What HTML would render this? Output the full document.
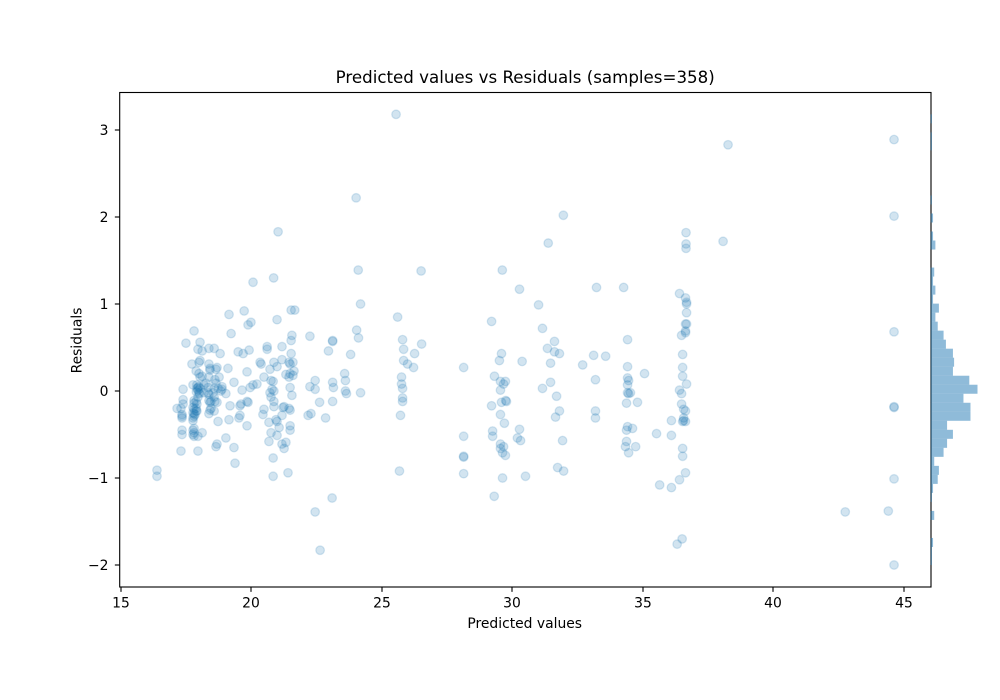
<!DOCTYPE html>
<html lang="en">
<head>
<meta charset="utf-8">
<title>Predicted values vs Residuals</title>
<style>
  html, body { margin: 0; padding: 0; background: #fff; }
  svg { display: block; }
  text { font-family: "DejaVu Sans", "Liberation Sans", sans-serif; fill: #000; }
</style>
</head>
<body>
<svg id="chart" width="1000" height="700" viewBox="0 0 1000 700" xmlns="http://www.w3.org/2000/svg">
  <rect x="0" y="0" width="1000" height="700" fill="#fff"/>
  <text x="525.2" y="83" font-size="16.67" text-anchor="middle">Predicted values vs Residuals (samples=358)</text>
  <text x="524.7" y="628" font-size="13.89" text-anchor="middle">Predicted values</text>
  <text x="0" y="0" font-size="13.89" text-anchor="middle" transform="translate(81.5 340.5) rotate(-90)">Residuals</text>
  <g id="points"></g>
  <g id="spines"></g>
  <g id="hist"></g>
  <g id="xticks"></g>
  <g id="yticks"></g>
</svg>
<script>
const predicted = [
  20.07,20.86,19.15,19.73,19.88,19.99,20.99,21.53,21.67,17.81,19.23,17.50,18.04,17.96,18.12,18.38,18.58,18.81,19.50,19.69,19.92,20.61,20.61,21.18,21.56,21.53,22.25,21.53,
  20.34,20.38,20.87,21.18,21.45,21.60,21.49,20.99,20.72,19.84,19.11,18.38,18.04,18.00,17.73,17.89,18.00,18.12,18.04,18.42,18.42,18.69,18.65,18.38,18.61,18.77,18.65,18.88,18.84,19.03,
  19.34,19.65,19.96,20.07,20.22,20.49,20.76,20.84,20.80,20.72,20.87,20.76,20.87,20.87,21.33,21.49,21.64,21.60,21.45,21.49,21.56,22.45,22.25,22.45,22.62,22.29,22.18,21.45,21.26,21.18,21.49,21.22,
  20.49,20.45,20.68,20.95,20.99,21.07,21.49,21.49,20.76,20.99,20.68,21.33,21.18,21.26,20.84,21.41,20.84,16.39,16.39,19.38,19.34,19.03,18.69,18.65,17.96,17.31,19.84,19.15,18.73,19.53,19.57,19.19,19.57,19.61,19.84,19.88,
  17.39,17.16,17.39,17.39,17.35,17.35,17.35,17.31,17.35,17.35,
  17.77,17.92,17.96,18.04,17.96,18.00,17.92,17.81,17.89,17.81,17.92,17.77,17.89,17.81,17.92,17.77,17.85,17.81,17.77,17.77,17.81,17.77,17.81,17.77,17.81,17.96,18.12,
  18.38,18.38,18.58,18.61,18.42,18.46,18.69,18.46,18.42,18.38,18.58,18.27,18.19,18.35,18.58,18.54,18.73,18.88,18.19,17.96,18.35,17.99,17.90,18.02,17.81,17.89,
  24.19,25.61,29.21,24.04,23.12,23.12,24.11,22.96,23.81,25.80,25.84,26.53,26.26,25.84,25.99,26.22,28.14,23.58,23.61,23.12,23.15,23.61,23.65,24.19,23.12,22.85,25.76,25.76,25.80,25.80,25.80,25.72,25.68,
  28.14,28.14,28.14,28.14,29.63,29.25,29.25,29.55,29.67,29.55,29.63,29.74,30.20,30.32,30.28,29.70,29.55,29.21,29.59,29.75,29.78,29.55,29.32,29.55,29.74,29.67,29.51,29.59,30.28,30.38,
  33.23,34.27,36.41,36.64,36.68,36.68,36.68,31.01,31.16,31.62,31.35,31.62,31.81,31.47,33.12,33.58,32.70,34.42,34.42,35.07,33.19,34.42,34.46,34.42,34.42,34.53,34.46,34.38,34.80,
  31.47,31.16,31.70,31.81,31.66,33.19,33.19,36.10,35.53,36.10,34.42,34.38,34.61,34.38,34.34,34.73,34.46,31.93,31.74,31.97,30.51,
  36.53,36.53,36.53,36.68,36.41,36.49,36.49,36.57,36.64,36.57,36.64,36.53,36.57,36.53,36.53,36.64,36.41,35.65,36.10,36.49,36.64,36.64,36.64,36.68,
  25.55,24.02,21.03,24.10,26.51,29.62,31.96,31.38,36.66,36.66,36.66,38.08,38.27,44.63,44.63,44.63,44.63,44.63,44.63,44.63,42.76,44.41,36.32,36.51,29.31,22.45,23.10,22.64
];
const residuals = [
  1.25,1.30,0.88,0.92,0.76,0.79,0.82,0.93,0.93,0.69,0.66,0.55,0.56,0.48,0.46,0.49,0.49,0.43,0.45,0.43,0.47,0.51,0.48,0.51,0.64,0.58,0.63,0.43,
  0.33,0.31,0.33,0.36,0.33,0.33,0.31,0.28,0.25,0.22,0.26,0.31,0.35,0.33,0.31,0.23,0.20,0.17,0.16,0.26,0.24,0.27,0.25,0.16,0.13,0.16,0.09,0.05,0.00,-0.03,
  0.10,0.01,0.04,0.07,0.08,0.16,0.12,0.11,0.02,-0.02,0.00,-0.07,-0.12,-0.18,0.19,0.20,0.23,0.18,0.16,0.04,-0.05,0.12,0.05,0.02,-0.13,-0.26,-0.28,-0.20,-0.18,-0.28,-0.22,-0.19,
  -0.21,-0.27,-0.36,-0.33,-0.35,-0.42,-0.40,-0.45,-0.48,-0.51,-0.58,-0.59,-0.61,-0.66,-0.77,-0.94,-0.98,-0.91,-0.98,-0.83,-0.65,-0.54,-0.61,-0.64,-0.69,-0.69,-0.40,-0.33,-0.35,-0.31,-0.28,-0.17,-0.17,-0.15,-0.12,-0.13,
  0.02,-0.20,-0.10,-0.15,-0.27,-0.29,-0.31,-0.20,-0.45,-0.50,
  0.07,0.07,0.04,0.03,0.01,-0.02,0.03,-0.11,-0.12,-0.14,-0.15,-0.19,-0.20,-0.21,-0.23,-0.25,-0.27,-0.29,-0.31,-0.34,-0.43,-0.45,-0.48,-0.50,-0.52,-0.52,-0.48,
  -0.04,-0.11,-0.07,-0.12,-0.13,-0.12,-0.13,-0.20,-0.22,-0.26,-0.23,0.09,0.07,0.04,0.03,-0.02,0.03,0.02,-0.02,-0.07,-0.02,0.05,-0.01,-0.03,-0.26,-0.23,
  1.00,0.85,0.80,0.70,0.58,0.57,0.61,0.46,0.42,0.59,0.48,0.54,0.43,0.35,0.31,0.27,0.27,0.20,0.12,0.10,0.04,0.00,-0.03,-0.02,-0.12,-0.31,0.16,0.08,0.03,-0.08,-0.12,-0.28,-0.92,
  -0.52,-0.75,-0.76,-0.95,-1.00,-0.46,-0.52,-0.61,-0.64,-0.66,-0.71,-0.74,-0.54,-0.57,-0.44,-0.37,-0.27,-0.17,-0.13,-0.11,-0.12,0.01,0.17,0.11,0.11,0.08,0.35,0.43,1.17,0.34,
  1.19,1.19,1.12,1.07,1.02,1.00,0.90,0.99,0.72,0.57,0.49,0.45,0.43,0.32,0.41,0.40,0.30,0.59,0.28,0.20,0.13,0.15,0.12,0.07,-0.02,-0.02,-0.03,-0.14,-0.13,
  0.10,0.03,-0.06,-0.23,-0.30,-0.23,-0.31,-0.34,-0.49,-0.51,-0.41,-0.45,-0.43,-0.58,-0.64,-0.64,-0.71,-0.57,-0.88,-0.92,-0.98,
  0.42,0.27,0.17,0.08,0.01,-0.03,-0.15,-0.21,-0.23,-0.31,-0.35,-0.35,-0.34,-0.66,-0.75,-0.94,-1.02,-1.08,-1.11,0.64,0.69,0.67,0.77,0.77,
  3.18,2.22,1.83,1.39,1.38,1.39,2.02,1.70,1.82,1.69,1.64,1.72,2.83,2.89,2.01,0.68,-0.18,-0.19,-1.01,-2.00,-1.39,-1.38,-1.76,-1.70,-1.21,-1.39,-1.23,-1.83
];
const histCounts = [
  1,0,1,1,0,0,0,0,0,1,
  0,2,0,2,4,0,0,3,2,4,
  2,7,4,6,11,13,19,20,19,33,
  40,28,34,34,14,19,14,11,3,7,
  6,2,1,0,3,0,0,2,1,1
];
const histTopEdge = 3.18;
const histBinWidth = 0.1036;
const xTickValues = [15, 20, 25, 30, 35, 40, 45];
const yTickValues = [-2, -1, 0, 1, 2, 3];

const NS = 'http://www.w3.org/2000/svg';
const frame = { left: 119.7, right: 931, top: 92.5, bottom: 587 };
function xScale(v) { return 120.7 + (v - 15) * 26.1; }
function yScale(v) { return 391 - v * 87; }
function countScale(c) { return c * 1.17; }
function make(tag, attrs, parent) {
  const el = document.createElementNS(NS, tag);
  for (const k in attrs) el.setAttribute(k, attrs[k]);
  parent.appendChild(el);
  return el;
}

const pointsGroup = document.getElementById('points');
predicted.forEach(function (p, i) {
  const c = make('circle', {
    cx: xScale(p), cy: yScale(residuals[i]), r: 4.3,
    fill: '#1f77b4', 'fill-opacity': 0.2,
    stroke: '#1f77b4', 'stroke-opacity': 0.17, 'stroke-width': 1.3
  }, pointsGroup);
  
  
});

const spineGroup = document.getElementById('spines');
const spine = make('rect', {
  x: frame.left, y: frame.top,
  width: frame.right - frame.left, height: frame.bottom - frame.top,
  fill: 'none', stroke: '#000', 'stroke-width': 1.11
}, spineGroup);



const histGroup = document.getElementById('hist');
histCounts.forEach(function (count, i) {
  if (!count) return;
  const top = yScale(histTopEdge - i * histBinWidth);
  const bottom = yScale(histTopEdge - (i + 1) * histBinWidth);
  const bar = make('rect', {
    x: 930.7, y: top, width: countScale(count), height: bottom - top,
    fill: '#1f77b4', 'fill-opacity': 0.5
  }, histGroup);
  
  
});

const xTickGroup = document.getElementById('xticks');
xTickValues.forEach(function (v) {
  const x = Math.round(xScale(v));
  const t = make('line', { x1: x, x2: x, y1: frame.bottom, y2: frame.bottom + 4.86, stroke: '#000', 'stroke-width': 1.11 }, xTickGroup);
  
  
  const l = make('text', { x: x, y: 607.5, 'font-size': 13.89, 'text-anchor': 'middle' }, xTickGroup);
  l.textContent = String(v);
  
  
});

const yTickGroup = document.getElementById('yticks');
yTickValues.forEach(function (v) {
  const y = yScale(v);
  const t = make('line', { x1: frame.left - 4.86, x2: frame.left, y1: y, y2: y, stroke: '#000', 'stroke-width': 1.11 }, yTickGroup);
  
  
  const l = make('text', { x: 108.5, y: y + 5, 'font-size': 13.89, 'text-anchor': 'end' }, yTickGroup);
  l.textContent = v < 0 ? '\u2212' + Math.abs(v) : String(v);
  
  
});
</script>
</body>
</html>
